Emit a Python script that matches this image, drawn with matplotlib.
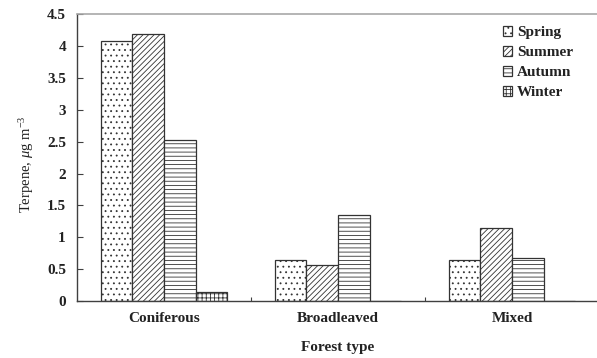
import matplotlib
matplotlib.use("Agg")
import matplotlib.pyplot as plt
import numpy as np

# terpene concentration by forest type and season
forest_types = ["Coniferous", "Broadleaved", "Mixed"]
seasons = ["Spring", "Summer", "Autumn", "Winter"]
spring = [4.08, 0.65, 0.65]
summer = [4.19, 0.56, 1.14]
autumn = [2.52, 1.35, 0.68]
winter = [0.15, 0.0, 0.0]
yticks = [0, 0.5, 1, 1.5, 2, 2.5, 3, 3.5, 4, 4.5]
ytick_labels = ["0", "0.5", "1", "1.5", "2", "2.5", "3", "3.5", "4", "4.5"]

plt.rcParams["font.family"] = ["Liberation Serif", "DejaVu Serif"]
plt.rcParams["mathtext.fontset"] = "custom"
plt.rcParams["mathtext.rm"] = "Liberation Serif"
plt.rcParams["mathtext.it"] = "Liberation Serif:italic"
plt.rcParams["hatch.linewidth"] = 0.6

fig = plt.figure(figsize=(5.97, 3.58), dpi=100)
ax = fig.add_axes([0.129, 0.159, 0.8744, 0.8017])

x = np.arange(len(forest_types))
w = 0.182
series = [spring, summer, autumn, winter]
hatches = ["...", "//////", "----", "++++"]
for i, (vals, h, lab) in enumerate(zip(series, hatches, seasons)):
    ax.bar(x + (i - 1.5) * w, vals, w, color="white", edgecolor="#333333",
           hatch=h, linewidth=0.9, label=lab)

ax.set_xlim(-0.5, 2.5)
ax.set_ylim(0, 4.5)
ax.set_yticks(yticks)
ax.set_yticklabels(ytick_labels)
ax.set_xticks(x)
ax.set_xticklabels(forest_types)
ax.set_xticks([0.5, 1.5], minor=True)

ax.tick_params(axis="y", direction="in", length=4, width=0.8, color="#404040",
               pad=8, labelsize=11)
ax.tick_params(axis="x", which="major", length=0, pad=8, labelsize=11)
ax.tick_params(axis="x", which="minor", direction="in", length=3, width=0.8,
               color="#404040")
for lab in ax.get_xticklabels() + ax.get_yticklabels():
    lab.set_fontweight("bold")
    lab.set_color("#222222")

ax.spines["right"].set_visible(False)
ax.spines["top"].set_color("#a8a8a8")
ax.spines["top"].set_linewidth(1.2)
for s in ["left", "bottom"]:
    ax.spines[s].set_color("#404040")
    ax.spines[s].set_linewidth(1.0)

ax.set_xlabel("Forest type", fontsize=11, fontweight="bold", color="#222222")
ax.xaxis.set_label_coords(0.5, -0.14)
ax.set_ylabel(r"Terpene, $\mu$g m$^{-3}$", fontsize=10.5, color="#222222", va="center")
ax.yaxis.set_label_coords(-0.097, 0.477)

leg = ax.legend(loc="upper left", bbox_to_anchor=(0.79, 1.007), frameon=False,
                handlelength=0.6, handleheight=0.6, handletextpad=0.3,
                labelspacing=0.45, prop={"weight": "bold", "size": 11})
for t in leg.get_texts():
    t.set_color("#222222")

fig.savefig("out.png", dpi=100)
